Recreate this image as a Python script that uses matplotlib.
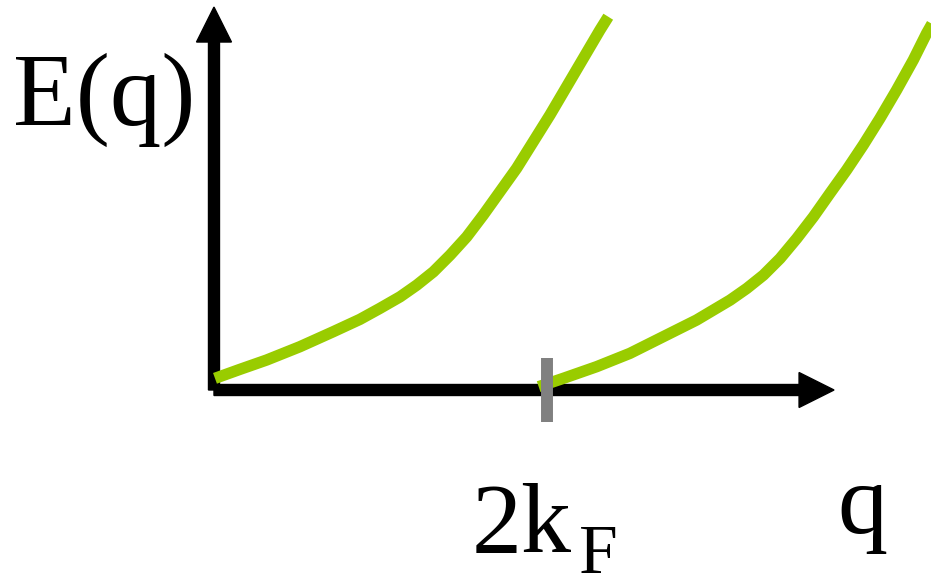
import numpy as np
import matplotlib.pyplot as plt

# Dispersion sketch: q in units of 2k_F, E in the same units
q_low = [0.003, 0.078, 0.158, 0.258, 0.358, 0.438, 0.498, 0.559, 0.609, 0.659, 0.709,
         0.759, 0.809, 0.859, 0.909, 0.959, 1.009, 1.059, 1.109, 1.159, 1.184]
E_low = [0.035, 0.062, 0.090, 0.130, 0.175, 0.212, 0.245, 0.280, 0.315, 0.355, 0.405,
         0.460, 0.526, 0.596, 0.666, 0.746, 0.826, 0.911, 0.996, 1.081, 1.121]

q_high = [0.975, 1.049, 1.149, 1.249, 1.349, 1.449, 1.550, 1.600, 1.650, 1.700, 1.750,
          1.800, 1.850, 1.900, 1.950, 2.000, 2.050, 2.100, 2.140, 2.165]
E_high = [0.010, 0.035, 0.070, 0.110, 0.160, 0.210, 0.270, 0.305, 0.345, 0.395, 0.455,
          0.520, 0.591, 0.661, 0.736, 0.816, 0.901, 0.991, 1.071, 1.115]

q_2kf = 1.0
q_axis_end = 1.862
E_axis_end = 1.150

green = '#99cc00'
serif = 'Liberation Serif'

fig = plt.figure(figsize=(9.31, 5.80), dpi=100)
ax = fig.add_axes([0, 0, 1, 1])
ax.set_xlim(-0.6426, 2.1532)
ax.set_ylim(-0.5706, 1.1712)
ax.axis('off')

# axes as arrows
arrow_kw = dict(width=0.033, head_width=0.105, head_length=0.105,
                length_includes_head=True, color='black', zorder=1)
ax.arrow(0, 0, q_axis_end, 0, **arrow_kw)
ax.arrow(0, 0, 0, E_axis_end, **arrow_kw)

ax.plot(q_low, E_low, color=green, lw=8.2, solid_capstyle='butt',
        solid_joinstyle='round', zorder=2)
ax.plot(q_high, E_high, color=green, lw=8.2, solid_capstyle='butt',
        solid_joinstyle='round', zorder=2)

# marker at 2k_F
ax.plot([q_2kf, q_2kf], [-0.096, 0.096], color='#808080', lw=8.6,
        solid_capstyle='butt', zorder=3)

ax.text(-0.604, 0.796, 'E(q)', fontsize=74, family=serif, ha='left', va='baseline')
ax.text(0.775, -0.486, '2k', fontsize=72, family=serif, ha='left', va='baseline')
ax.text(1.096, -0.550, 'F', fontsize=50, family=serif, ha='left', va='baseline')
ax.text(1.871, -0.429, 'q', fontsize=72, family=serif, ha='left', va='baseline')

fig.savefig('out.png', dpi=100)
